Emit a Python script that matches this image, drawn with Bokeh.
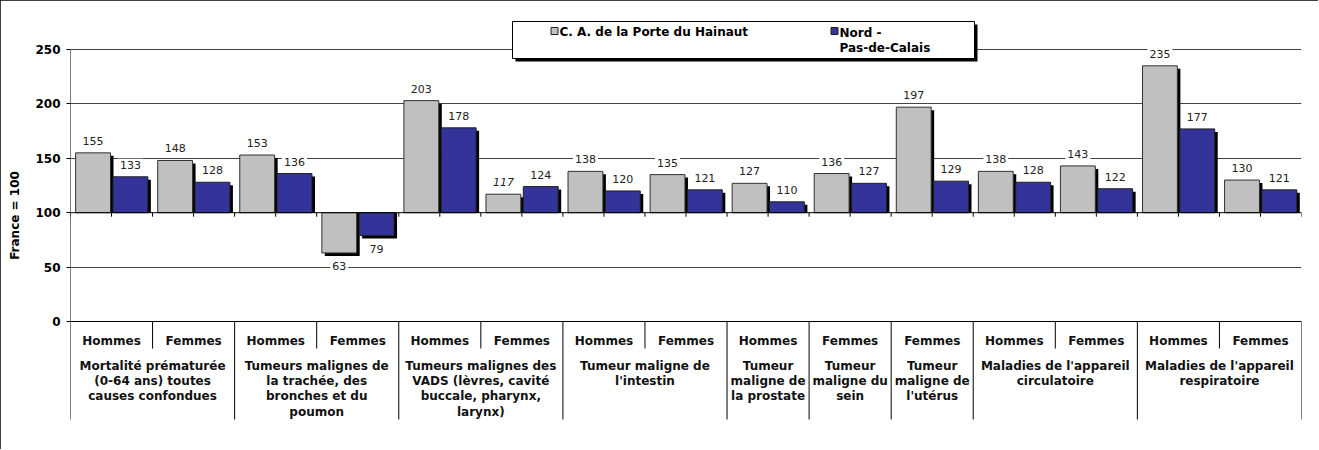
import numpy as np
from bokeh.plotting import figure
from bokeh.models import Range1d, FixedTicker, ColumnDataSource
from bokeh.core.properties import value
from bokeh.embed import file_html
from bokeh.resources import INLINE

# ---------------- data ----------------
group_labels = [
    "Mortalité prématurée\n(0-64 ans) toutes\ncauses confondues",
    "Tumeurs malignes de\nla trachée, des\nbronches et du\npoumon",
    "Tumeurs malignes des\nVADS (lèvres, cavité\nbuccale, pharynx,\nlarynx)",
    "Tumeur maligne de\nl'intestin",
    "Tumeur\nmaligne de\nla prostate",
    "Tumeur\nmaligne du\nsein",
    "Tumeur\nmaligne de\nl'utérus",
    "Maladies de l'appareil\ncirculatoire",
    "Maladies de l'appareil\nrespiratoire",
]
group_of = [0, 0, 1, 1, 2, 2, 3, 3, 4, 5, 6, 7, 7, 8, 8]
sexes = ["Hommes", "Femmes", "Hommes", "Femmes", "Hommes", "Femmes",
         "Hommes", "Femmes", "Hommes", "Femmes", "Femmes",
         "Hommes", "Femmes", "Hommes", "Femmes"]
porte_hainaut = [155, 148, 153, 63, 203, 117, 138, 135, 127, 136, 197, 138, 143, 235, 130]
nord_pdc = [133, 128, 136, 79, 178, 124, 120, 121, 110, 127, 129, 128, 122, 177, 121]
series_names = ["C. A. de la Porte du Hainaut", "Nord -\nPas-de-Calais"]
y_ticks = [0, 50, 100, 150, 200, 250]
y_title = "France = 100"
BASE = 100

# ---------------- style / layout ----------------
FONT = "DejaVu Sans"
GRAY = "#C0C0C0"
BLUE = "#333399"
GRID = "#444444"
italic_gray = [5]          # index of the italic label in the first series

n = len(sexes)
FRAME_W = 1231
PXX = FRAME_W / n                 # px per category
PXY = 272.0 / 250.0               # px per unit
def dx(px): return px / PXX
def dy(px): return px / PXY

y_lo = -dy(101)
y_hi = dy(313)

p = figure(width=1318, height=449,
           x_range=Range1d(0, n), y_range=Range1d(y_lo, y_hi),
           output_backend="svg", toolbar_location=None, x_axis_type=None,
           min_border_left=70, min_border_right=17, min_border_top=8, min_border_bottom=27,
           outline_line_color=None, background_fill_color="white", border_fill_color="white")
p.styles = {"outline": "1px solid #000000", "outline-offset": "-1px"}

ya = p.yaxis[0]
ya.ticker = FixedTicker(ticks=y_ticks)
ya.axis_line_color = None
ya.major_tick_out = 4
ya.major_tick_in = 0
ya.major_tick_line_color = "black"
ya.minor_tick_line_color = None
ya.major_label_text_font = FONT
ya.major_label_text_font_style = "bold"
ya.major_label_text_font_size = "12px"
ya.major_label_text_color = "black"
ya.major_label_standoff = 6
ya.axis_label = y_title
ya.axis_label_text_font = FONT
ya.axis_label_text_font_style = "bold"
ya.axis_label_text_font_size = "12px"
ya.axis_label_text_color = "black"
ya.axis_label_standoff = 10

p.ygrid.ticker = FixedTicker(ticks=[t for t in y_ticks if t not in (0, BASE)])
p.ygrid.grid_line_color = GRID
p.ygrid.grid_line_width = 1

idx = np.arange(n)
W = 0.425
xs_g = idx + 0.275
xs_b = idx + 0.73

# shadows
for xs, vals in ((xs_g, porte_hainaut), (xs_b, nord_pdc)):
    v = np.array(vals, dtype=float)
    p.vbar(x=xs + dx(3), width=W, bottom=BASE, top=v - dy(3),
           fill_color="black", line_color=None)

# bars
p.vbar(x=xs_g, width=W, bottom=BASE, top=porte_hainaut,
       fill_color=GRAY, line_color="#303030", line_width=1)
p.vbar(x=xs_b, width=W, bottom=BASE, top=nord_pdc,
       fill_color=BLUE, line_color="#202020", line_width=1)

# axis line at 100 + ticks, y axis line
p.segment(x0=[0], y0=[BASE], x1=[n], y1=[BASE], line_color="black", line_width=1)
tx = np.arange(0, n + 0.01, 0.5)
p.segment(x0=tx, y0=[BASE] * len(tx), x1=tx, y1=[BASE - dy(4)] * len(tx),
          line_color="black", line_width=1)
p.segment(x0=[0], y0=[0], x1=[0], y1=[max(y_ticks)], line_color="black", line_width=1)

# data labels
def label_source(xs, vals, italic):
    v = np.array(vals, dtype=float)
    ly = np.where(v >= BASE, v + dy(12), v - dy(13))
    styles = ["italic" if i in italic else "normal" for i in range(len(vals))]
    return ColumnDataSource(dict(x=xs, y=ly, t=[str(x) for x in vals], s=styles))

for xs, vals, it in ((xs_g, porte_hainaut, italic_gray), (xs_b, nord_pdc, [])):
    src = label_source(xs, vals, it)
    p.text(x="x", y="y", text="t", source=src, text_font=value(FONT),
           text_font_size="11px", text_font_style="s", text_color="#222222",
           text_align="center", text_baseline="middle",
           background_fill_color="white", padding=2)

# category table
table_bottom = -dy(98)
short_bottom = -dy(27)
p.segment(x0=[0], y0=[0], x1=[n], y1=[0], line_color="black", line_width=1)
long_x = [0] + [i for i in range(1, n) if group_of[i] != group_of[i - 1]] + [n]
short_x = [i for i in range(1, n) if group_of[i] == group_of[i - 1]]
p.segment(x0=long_x, y0=[0] * len(long_x), x1=long_x, y1=[table_bottom] * len(long_x),
          line_color="black", line_width=1)
p.segment(x0=short_x, y0=[0] * len(short_x), x1=short_x, y1=[short_bottom] * len(short_x),
          line_color="black", line_width=1)

p.text(x=idx + 0.5, y=[-dy(19)] * n, text=sexes, text_font=value(FONT),
       text_font_size="12px", text_font_style="bold", text_color="#111111",
       text_align="center", text_baseline="middle")

gx, gy = [], []
for g in range(len(group_labels)):
    members = [i for i in range(n) if group_of[i] == g]
    gx.append((members[0] + members[-1] + 1) / 2.0)
    gy.append(-dy(37))
p.text(x=gx, y=gy, text=group_labels, text_font=value(FONT),
       text_font_size="12px", text_font_style="bold", text_color="#111111",
       text_align="center", text_baseline="top", text_line_height=1.1)

# legend (drawn manually to match the boxed legend with shadow)
L, R = dx(442), dx(904)
T, B = dy(300), dy(263)
p.quad(left=L + dx(3), right=R + dx(3), top=T - dy(3), bottom=B - dy(3),
       fill_color="black", line_color=None)
p.quad(left=L, right=R, top=T, bottom=B, fill_color="white", line_color="black", line_width=1)
p.scatter(x=[dx(484), dx(764)], y=[dy(290.5)] * 2, marker="square", size=7,
          fill_color=[GRAY, BLUE], line_color="#202020", line_width=1)
p.text(x=[dx(489)], y=[dy(290)], text=[series_names[0]], text_font=value(FONT),
       text_font_size="12px", text_font_style="bold", text_color="black",
       text_align="left", text_baseline="middle")
p.text(x=[dx(769)], y=[dy(296)], text=[series_names[1]], text_font=value(FONT),
       text_font_size="12px", text_font_style="bold", text_color="black",
       text_align="left", text_baseline="top", text_line_height=1.1)

open("out.html", "w").write(file_html(p, INLINE))
